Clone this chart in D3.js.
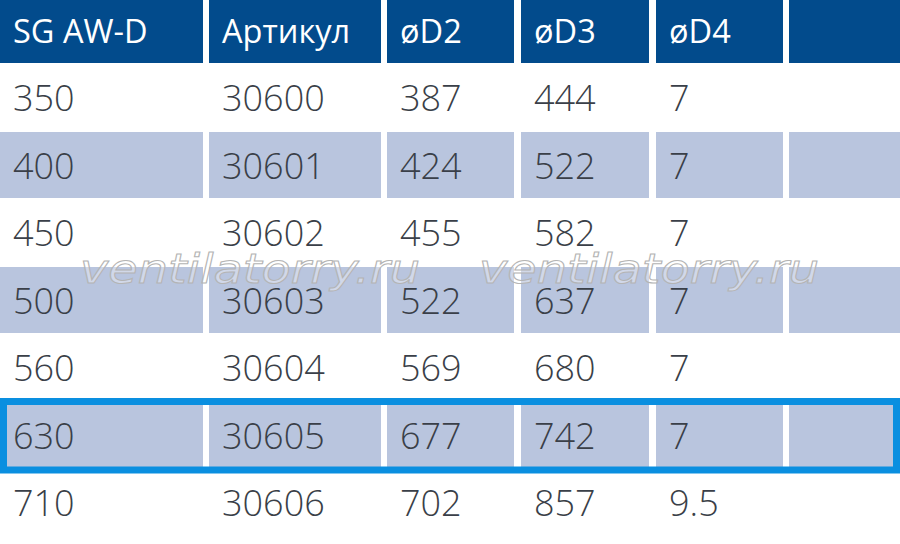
<!DOCTYPE html>
<html>
<head>
<meta charset="utf-8">
<script src="https://cdn.jsdelivr.net/npm/d3@7"></script>
<style>
  html, body { margin: 0; padding: 0; background: #fff; }
  svg { display: block; }
</style>
</head>
<body>
<div id="chart"></div>
<script>
// Table data
const headers = ['SG AW-D', 'Артикул', 'øD2', 'øD3', 'øD4', ''];
const sizes = ['350', '400', '450', '500', '560', '630', '710'];
const articles = ['30600', '30601', '30602', '30603', '30604', '30605', '30606'];
const d2 = ['387', '424', '455', '522', '569', '677', '702'];
const d3vals = ['444', '522', '582', '637', '680', '742', '857'];
const d4 = ['7', '7', '7', '7', '7', '7', '9.5'];
const highlightRow = 5;
const watermark = 'ventilatorry.ru';

const rows = sizes.map((s, i) => [s, articles[i], d2[i], d3vals[i], d4[i], '']);

// Layout
const width = 900, height = 544;
const colEdges = [[0, 203], [209, 381], [387, 514], [521, 649], [656, 783], [789, 900]];
const headerH = 63;

const svg = d3.select('#chart')
  .append('svg')
  .attr('width', width)
  .attr('height', height);

// Scales
const colX = d3.scaleOrdinal().domain(d3.range(headers.length)).range(colEdges.map((e) => e[0]));
const colW = d3.scaleOrdinal().domain(d3.range(headers.length)).range(colEdges.map((e) => e[1] - e[0]));
const yScale = d3.scaleBand().domain(d3.range(rows.length)).range([64.5, 537]);

// Header
const head = svg.append('g').attr('class', 'header');
head.selectAll('rect')
  .data(headers)
  .enter()
  .append('rect')
  .attr('x', (d, i) => colX(i))
  .attr('y', 0)
  .attr('width', (d, i) => colW(i))
  .attr('height', headerH)
  .attr('fill', '#024b8c');

head.selectAll('text')
  .data(headers)
  .enter()
  .append('text')
  .attr('x', (d, i) => colX(i) + 13)
  .attr('y', 43)
  .attr('fill', '#ffffff')
  .attr('font-family', 'Open Sans, sans-serif')
  .attr('font-weight', 500)
  .attr('font-size', 32.5)
  .text((d) => d);

// Body rows
const body = svg.append('g').attr('class', 'body');
const rowG = body.selectAll('.row')
  .data(rows)
  .enter()
  .append('g')
  .attr('class', 'row')
  .attr('transform', (d, i) => `translate(0,${yScale(i)})`);

rowG.each(function (r, ri) {
  const g = d3.select(this);
  if (ri % 2 === 1) {
    g.selectAll('rect')
      .data(r)
      .enter()
      .append('rect')
      .attr('x', (d, i) => colX(i))
      .attr('y', 0)
      .attr('width', (d, i) => colW(i))
      .attr('height', yScale.bandwidth() - 1.5)
      .attr('fill', '#b9c5de');
  }
  g.selectAll('text')
    .data(r)
    .enter()
    .append('text')
    .attr('x', (d, i) => colX(i) + 13)
    .attr('y', yScale.bandwidth() / 2 + 13)
    .attr('fill', '#3a3f48')
    .attr('font-family', 'Open Sans, sans-serif')
    .attr('font-weight', 300)
    .attr('font-size', 36)
    .text((d) => d);
});

// Highlighted row frame
svg.append('rect')
  .attr('x', 3.5)
  .attr('y', yScale(highlightRow) - 0.5)
  .attr('width', width - 7)
  .attr('height', yScale.bandwidth() + 1)
  .attr('fill', 'none')
  .attr('stroke', '#0a8fe0')
  .attr('stroke-width', 7);

// Watermark
svg.selectAll('.wm')
  .data([80, 479])
  .enter()
  .append('text')
  .attr('class', 'wm')
  .attr('x', (d) => d)
  .attr('y', 283)
  .attr('font-family', 'DejaVu Sans, sans-serif')
  .attr('font-style', 'italic')
  .attr('font-size', 40)
  .attr('textLength', 340)
  .attr('lengthAdjust', 'spacingAndGlyphs')
  .attr('fill', 'rgba(255,255,255,0.35)')
  .attr('stroke', '#b4b4b4')
  .attr('stroke-width', 1)
  .text(watermark);
</script>
</body>
</html>
